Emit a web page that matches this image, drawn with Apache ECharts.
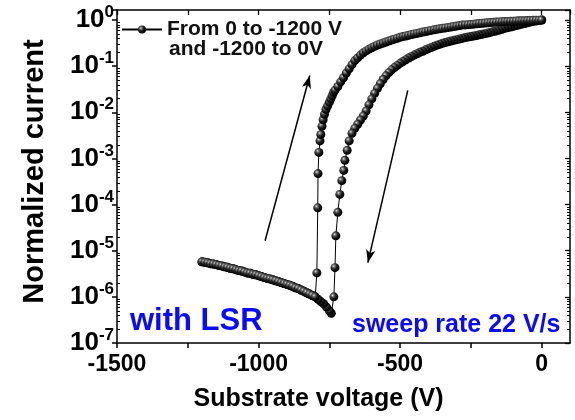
<!DOCTYPE html>
<html><head><meta charset="utf-8">
<script src="https://cdn.jsdelivr.net/npm/echarts@6/dist/echarts.min.js"></script>
<style>html,body{margin:0;padding:0;background:#fff}#c{width:575px;height:420px}</style>
</head><body><div id="c"></div>
<script>
// ---- data ----
// sweep 0 V -> -1200 V: inner branch, steep drop, low-current tail
const forwardVoltage = [0,-10,-20,-30,-40,-50,-60,-70,-80,-90,-100,-110,-120,-130,-140,-150,-160,-170,-180,-190,-200,-210,-220,-230,-240,-250,-260,-270,-280,-290,-300,-310,-320,-330,-340,-350,-360,-370,-380,-390,-400,-410,-420,-430,-440,-450,-460,-470,-480,-490,-500,-510,-520,-530,-540,-550,-560,-570,-580,-590,-600,-610,-620,-630,-640,-650,-660,-670,-680,-687,-695,-699,-706,-713,-720,-727,-730,-734,-743,-750,-760,-770,-780,-790,-800,-810,-820,-830,-840,-850,-860,-870,-880,-890,-900,-910,-920,-930,-940,-950,-960,-970,-980,-990,-1000,-1010,-1020,-1030,-1040,-1050,-1060,-1070,-1080,-1090,-1100,-1110,-1120,-1130,-1140,-1150,-1160,-1170,-1180,-1190,-1200];
const forwardCurrent = [1.0,0.977,0.955,0.933,0.902,0.871,0.841,0.813,0.785,0.759,0.733,0.708,0.684,0.661,0.631,0.603,0.582,0.562,0.543,0.525,0.507,0.490,0.479,0.462,0.452,0.437,0.427,0.417,0.403,0.389,0.376,0.363,0.351,0.339,0.324,0.313,0.299,0.285,0.269,0.254,0.240,0.226,0.211,0.200,0.186,0.174,0.162,0.150,0.138,0.126,0.115,0.104,0.0933,0.0832,0.0724,0.0617,0.0513,0.0417,0.0331,0.0257,0.0195,0.0145,0.0107,0.0083,0.0068,0.0055,0.0045,0.0035,0.0024,0.0015,9.1e-4,5.5e-4,3.3e-4,1.66e-4,6.8e-5,2.1e-5,4.3e-6,1.0e-6,4.4e-7,5.0e-7,6.0e-7,7.1e-7,7.9e-7,8.9e-7,1.0e-6,1.07e-6,1.15e-6,1.23e-6,1.32e-6,1.41e-6,1.51e-6,1.58e-6,1.70e-6,1.78e-6,1.86e-6,1.95e-6,2.04e-6,2.14e-6,2.24e-6,2.34e-6,2.45e-6,2.51e-6,2.63e-6,2.75e-6,2.88e-6,3.02e-6,3.09e-6,3.24e-6,3.31e-6,3.47e-6,3.63e-6,3.72e-6,3.89e-6,4.07e-6,4.17e-6,4.37e-6,4.47e-6,4.68e-6,4.79e-6,5.01e-6,5.13e-6,5.25e-6,5.50e-6,5.62e-6,5.75e-6];
// sweep -1200 V -> 0 V: low-current tail, jump, outer branch
const returnVoltage = [-1200,-1190,-1180,-1170,-1160,-1150,-1140,-1130,-1120,-1110,-1100,-1090,-1080,-1070,-1060,-1050,-1040,-1030,-1020,-1010,-1000,-990,-980,-970,-960,-950,-940,-930,-920,-910,-900,-890,-880,-870,-860,-850,-840,-830,-820,-810,-800,-794,-791,-790,-787,-783,-780,-776,-772,-767,-762,-756,-750,-745,-740,-735,-730,-720,-710,-700,-690,-680,-670,-660,-650,-640,-630,-620,-610,-600,-590,-580,-570,-560,-550,-540,-530,-520,-510,-500,-490,-480,-470,-460,-450,-440,-430,-420,-410,-400,-390,-380,-370,-360,-350,-340,-330,-320,-310,-300,-290,-280,-270,-260,-250,-240,-230,-220,-210,-200,-190,-180,-170,-160,-150,-140,-130,-120,-110,-100,-90,-80,-70,-60,-50,-40,-30,-20,-10,0];
const returnCurrent = [5.75e-6,5.62e-6,5.50e-6,5.25e-6,5.13e-6,5.01e-6,4.79e-6,4.68e-6,4.47e-6,4.37e-6,4.17e-6,4.07e-6,3.89e-6,3.72e-6,3.63e-6,3.47e-6,3.31e-6,3.24e-6,3.09e-6,3.02e-6,2.88e-6,2.75e-6,2.63e-6,2.51e-6,2.45e-6,2.34e-6,2.24e-6,2.14e-6,2.04e-6,1.95e-6,1.86e-6,1.78e-6,1.70e-6,1.58e-6,1.51e-6,1.41e-6,1.32e-6,1.23e-6,1.15e-6,1.07e-6,1.0e-6,3.3e-6,8.5e-5,4.7e-4,1.35e-3,2.4e-3,3.3e-3,5.0e-3,6.9e-3,9.1e-3,0.0115,0.0138,0.0166,0.0195,0.0229,0.0269,0.0302,0.0363,0.0457,0.0562,0.0708,0.0871,0.108,0.132,0.151,0.174,0.195,0.214,0.234,0.251,0.269,0.288,0.302,0.316,0.335,0.351,0.367,0.385,0.403,0.422,0.437,0.452,0.468,0.484,0.501,0.513,0.531,0.550,0.562,0.582,0.596,0.617,0.631,0.646,0.661,0.676,0.692,0.708,0.724,0.741,0.759,0.776,0.785,0.794,0.804,0.813,0.832,0.841,0.851,0.861,0.871,0.881,0.891,0.902,0.912,0.918,0.927,0.933,0.940,0.946,0.953,0.959,0.966,0.970,0.977,0.982,0.986,0.991,0.995,1.0];
const xTickValues = [-1500,-1000,-500,0];
const yMin = 1e-7, yMax = 1.65;
const xMin = -1500, xMax = 100;
const seriesName = 'From 0 to -1200 V';
const legendSecondLine = 'and -1200 to 0V';
const noteLeft = 'with LSR';
const noteRight = 'sweep rate 22 V/s';
const xTitle = 'Substrate voltage (V)';
const yTitle = 'Normalized current';
const arrowUp = [[-977, 1.65e-5], [-819, 0.063]];
const arrowDown = [[-473, 0.030], [-614, 5.5e-6]];

// ---- build ----
const pts = [];
forwardVoltage.forEach((v, i) => pts.push([v, forwardCurrent[i]]));
returnVoltage.forEach((v, i) => pts.push([v, returnCurrent[i]]));

const FONT = '"Liberation Sans", Arial, sans-serif';
const sphere = {type: 'radial', x: 0.36, y: 0.33, r: 0.62,
  colorStops: [{offset: 0, color: '#e4e4e4'}, {offset: 0.22, color: '#777'}, {offset: 0.55, color: '#222'}, {offset: 1, color: '#000'}]};

const chart = echarts.init(document.getElementById('c'), null, {renderer: 'canvas'});
const axisLine = {show: true, onZero: false, lineStyle: {color: '#000', width: 1.5}};
chart.setOption({
  animation: false,
  textStyle: {fontFamily: FONT},
  grid: {left: 117, right: 5, top: 10, bottom: 77, containLabel: false},
  legend: {
    data: [seriesName], left: 116, top: 14, itemWidth: 40, itemHeight: 10, itemGap: 4,
    textStyle: {fontFamily: FONT, fontSize: 21, fontWeight: 'bold', color: '#111'}
  },
  xAxis: [{
    type: 'value', min: xMin, max: xMax, interval: 250, position: 'bottom',
    name: xTitle, nameLocation: 'middle', nameGap: 44,
    nameTextStyle: {fontFamily: FONT, fontSize: 25, fontWeight: 'bold', color: '#000', padding: [0, 50, 0, 0]},
    axisLine, splitLine: {show: false},
    axisTick: {show: true, inside: false, length: 5, lineStyle: {color: '#000', width: 1.5}},
    axisLabel: {fontFamily: FONT, fontSize: 23, fontWeight: 'bold', color: '#000', margin: 10,
      showMaxLabel: false,
      formatter: v => xTickValues.indexOf(v) >= 0 ? String(v) : ''}
  }, {
    type: 'value', min: xMin, max: xMax, interval: 250, position: 'top',
    axisLine, splitLine: {show: false}, axisLabel: {show: false},
    axisTick: {show: true, inside: true, length: 5, lineStyle: {color: '#000', width: 1.3}}
  }],
  yAxis: [{
    type: 'log', logBase: 10, min: yMin, max: yMax, splitNumber: 7, position: 'left',
    name: yTitle, nameLocation: 'middle', nameGap: 68, nameRotate: 90,
    nameTextStyle: {fontFamily: FONT, fontSize: 29, fontWeight: 'bold', color: '#000', padding: [0, 0, 0, 10]},
    axisLine, splitLine: {show: false},
    axisTick: {show: true, inside: false, length: 5, lineStyle: {color: '#000', width: 1.5}},
    axisLabel: {margin: 3, showMaxLabel: true,
      formatter: v => {
        const e = Math.log10(v); const r = Math.round(e);
        if (Math.abs(e - r) > 1e-6) return '';
        return '{b|10}{s|' + r + '}';
      },
      rich: {
        b: {fontFamily: FONT, fontSize: 26, fontWeight: 'bold', color: '#000', lineHeight: 32},
        s: {fontFamily: FONT, fontSize: 17, fontWeight: 'bold', color: '#000', verticalAlign: 'top', lineHeight: 22}
      }}
  }, {
    type: 'log', logBase: 10, min: yMin, max: yMax, splitNumber: 7, position: 'right',
    axisLine, splitLine: {show: false}, axisLabel: {show: false},
    axisTick: {show: true, inside: true, length: 5, lineStyle: {color: '#000', width: 1.3}}
  }],
  series: [{
    name: seriesName, type: 'line', xAxisIndex: 0, yAxisIndex: 0,
    data: pts, symbol: 'circle', symbolSize: 9, showAllSymbol: true,
    lineStyle: {color: '#000', width: 1},
    itemStyle: {color: sphere, borderWidth: 0},
    emphasis: {disabled: true},
    markLine: {
      silent: true, symbol: ['none', 'arrow'], symbolSize: [7, 13],
      label: {show: false},
      lineStyle: {color: '#000', width: 1.5, type: 'solid'},
      data: [
        [{coord: arrowUp[0]}, {coord: arrowUp[1]}],
        [{coord: arrowDown[0]}, {coord: arrowDown[1]}]
      ]
    }
  }]
});

// log-spaced minor ticks (2..9 x 10^n) on the left and right frame, placed through the axis scale
const g = [
  {type: 'text', left: 169, top: 39, z: 10,
   style: {text: legendSecondLine, font: 'bold 21px ' + FONT, fill: '#111'}},
  {type: 'text', left: 130, top: 306, z: 10,
   style: {text: noteLeft, font: 'bold 31px ' + FONT, fill: '#0a0aff'}},
  {type: 'text', left: 352, top: 313, z: 10,
   style: {text: noteRight, font: 'bold 25px ' + FONT, fill: '#0a0aff'}}
];
const xl = chart.convertToPixel({xAxisIndex: 0}, xMin);
const xr = chart.convertToPixel({xAxisIndex: 0}, xMax);
for (let n = -7; n <= 0; n++) {
  for (let k = 2; k <= 9; k++) {
    const v = k * Math.pow(10, n);
    if (v > yMax) continue;
    const y = Math.round(chart.convertToPixel({yAxisIndex: 0}, v)) + 0.5;
    g.push({type: 'line', silent: true, shape: {x1: xl, y1: y, x2: xl + 3, y2: y}, style: {stroke: '#000', lineWidth: 1}});
    g.push({type: 'line', silent: true, shape: {x1: xr - 3, y1: y, x2: xr, y2: y}, style: {stroke: '#000', lineWidth: 1}});
  }
}
chart.setOption({graphic: g});
</script></body></html>
